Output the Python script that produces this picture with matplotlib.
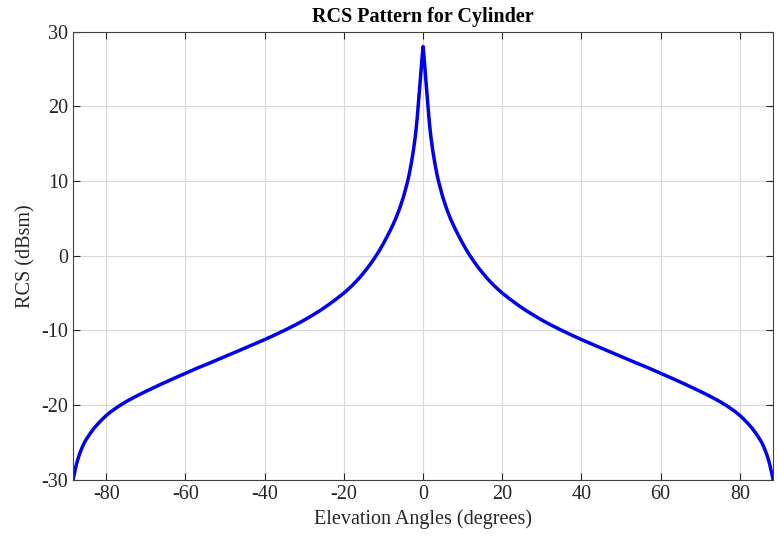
import matplotlib
matplotlib.use("Agg")
import matplotlib.pyplot as plt

# Values (curve is symmetric about 0 deg)
half_angles = [0, 0.25, 0.5, 0.75, 1.0, 1.25, 1.5, 1.75, 2.0, 2.5, 3.0, 3.5, 4.0,
               5.0, 6.0, 7.0, 8.0, 9.0, 10.0, 11.0, 12.0, 13.0, 14.0, 15.0, 16.0,
               17.0, 18.0, 19.0, 20.0, 22.0, 24.0, 26.0, 28.0, 30.0, 32.0, 35.0,
               38.0, 40.0, 43.0, 46.0, 50.0, 54.0, 57.0, 60.0, 63.0, 66.0, 70.0,
               73.0, 75.0, 77.0, 79.0, 80.0, 81.0, 82.0, 83.0, 84.0, 85.0, 85.5,
               86.0, 86.5, 87.0, 87.5, 88.0, 88.4]
half_rcs = [28.0, 26.6, 24.9, 23.2, 21.6, 19.95, 18.35, 17.0, 15.8, 13.9, 12.3, 10.9, 9.75,
            7.8, 6.2, 4.85, 3.7, 2.65, 1.65, 0.72, -0.12, -0.9, -1.62, -2.29, -2.92,
            -3.5, -4.04, -4.54, -5.0, -5.84, -6.62, -7.34, -8.0, -8.62, -9.2, -10.0,
            -10.75, -11.23, -11.92, -12.6, -13.5, -14.4, -15.05, -15.75, -16.45, -17.17, -18.17,
            -18.97, -19.55, -20.2, -20.95, -21.4, -21.9, -22.45, -23.05, -23.75, -24.55, -25.0,
            -25.55, -26.2, -26.95, -27.85, -29.0, -30.0]

xticks = [-80, -60, -40, -20, 0, 20, 40, 60, 80]
yticks = [-30, -20, -10, 0, 10, 20, 30]

angles = [-a for a in half_angles[:0:-1]] + half_angles
rcs = half_rcs[:0:-1] + half_rcs

plt.rcParams['font.family'] = ['Liberation Serif', 'DejaVu Serif']
plt.rcParams['axes.unicode_minus'] = False

fig = plt.figure(figsize=(7.77, 5.37), dpi=100)
ax = fig.add_axes([0.094, 0.1067, 0.901, 0.8343])
ax.plot(angles, rcs, color='#0000ee', linewidth=2.5, solid_joinstyle='round')
ax.set_xlim(-88.4, 88.4)
ax.set_ylim(-30, 30)
ax.set_xticks(xticks)
ax.set_yticks(yticks)
ax.grid(True, color='#d9d9d9', linewidth=0.8)
ax.set_axisbelow(True)
ax.tick_params(direction='in', top=True, right=True, labelsize=14.5, colors='#262626',
               length=5)
for s in ax.spines.values():
    s.set_color('#404040')
    s.set_linewidth(0.8)
ax.set_title('RCS Pattern for Cylinder', fontsize=14.5, fontweight='bold', pad=7)
ax.set_xlabel('Elevation Angles (degrees)', fontsize=14.5, color='#262626')
ax.set_ylabel('RCS (dBsm)', fontsize=14.5, color='#262626')
fig.savefig('out.png', dpi=100)
